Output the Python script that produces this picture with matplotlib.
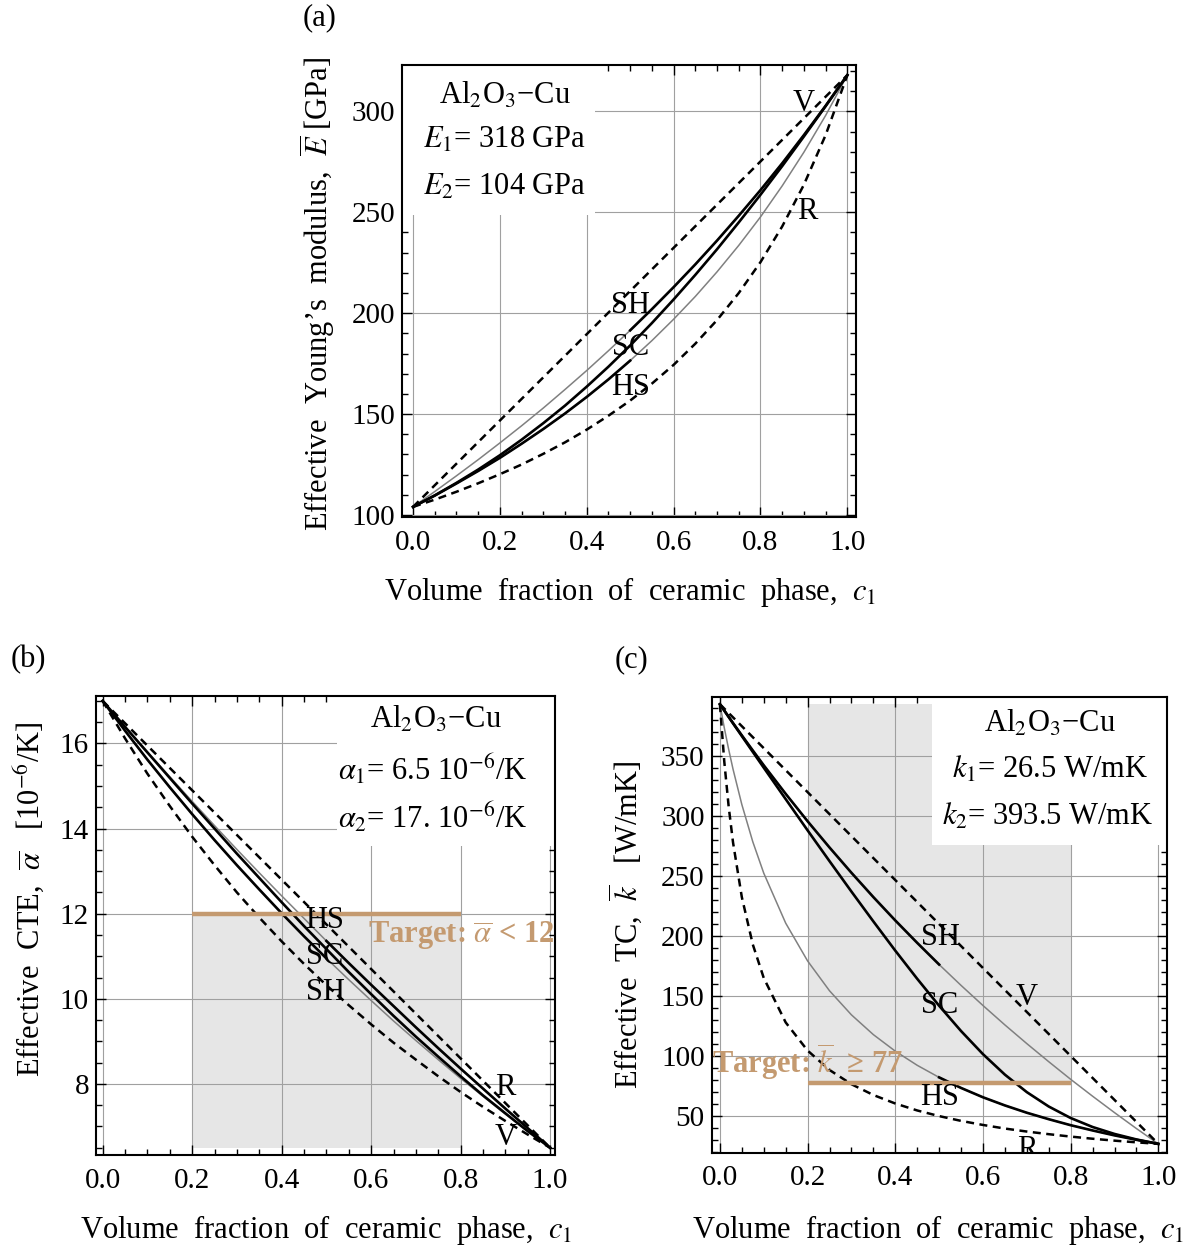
import matplotlib
matplotlib.use('Agg')
import matplotlib.pyplot as plt
from matplotlib.patches import Rectangle
from matplotlib.ticker import MultipleLocator, FormatStrFormatter

plt.rcParams['font.family'] = ['Liberation Serif', 'DejaVu Serif']
plt.rcParams['mathtext.fontset'] = 'stix'

# volume fraction grid used for (a) and (b)
c_ab = [0.0, 0.05, 0.1, 0.15, 0.2, 0.25, 0.3, 0.35, 0.4, 0.45, 0.5,
        0.55, 0.6, 0.65, 0.7, 0.75, 0.8, 0.85, 0.9, 0.95, 1.0]
# finer near zero for (c)
c_c = [0.0, 0.01, 0.02, 0.03, 0.05, 0.075, 0.1, 0.15, 0.2, 0.25, 0.3, 0.35, 0.4,
       0.45, 0.5, 0.55, 0.6, 0.65, 0.7, 0.75, 0.8, 0.85, 0.9, 0.95, 1.0]
c_ends = [0.0, 1.0]

# (a) Young's modulus [GPa]
E_V = [104.0, 318.0]
E_R = [104.0, 107.6, 111.5, 115.7, 120.2, 125.0, 130.3, 136.0, 142.3, 149.2, 156.7,
       165.1, 174.4, 184.9, 196.6, 210.0, 225.3, 243.0, 263.7, 288.3, 318.0]
E_up = [104.0, 111.6, 119.4, 127.4, 135.7, 144.2, 153.0, 162.2, 171.6, 181.4, 191.5,
        202.0, 212.9, 224.2, 236.0, 248.3, 261.0, 274.3, 288.3, 302.8, 318.0]
E_lo = [104.0, 109.6, 115.6, 121.8, 128.3, 135.3, 142.6, 150.3, 158.5, 167.2, 176.5,
        186.4, 197.0, 208.3, 220.5, 233.6, 247.7, 263.1, 279.8, 298.0, 318.0]
E_SC = [104.0, 109.7, 115.9, 122.5, 129.6, 137.3, 145.5, 154.2, 163.6, 173.5, 184.0,
        195.1, 206.8, 219.0, 231.7, 245.0, 258.7, 272.9, 287.6, 302.6, 318.0]

# (b) CTE [1e-6/K]
a_R = [17.0, 6.5]
a_V = [17.00, 16.12, 15.29, 14.53, 13.81, 13.14, 12.50, 11.91, 11.35, 10.82, 10.32,
       9.85, 9.40, 8.97, 8.57, 8.18, 7.81, 7.46, 7.13, 6.81, 6.50]
a_lo = [17.00, 16.30, 15.62, 14.97, 14.34, 13.73, 13.14, 12.57, 12.01, 11.47, 10.95,
        10.45, 9.96, 9.48, 9.02, 8.57, 8.13, 7.71, 7.29, 6.89, 6.50]
a_up = [17.00, 16.40, 15.80, 15.22, 14.64, 14.07, 13.51, 12.96, 12.42, 11.89, 11.36,
        10.84, 10.33, 9.83, 9.33, 8.84, 8.36, 7.89, 7.42, 6.96, 6.50]
a_SC = [17.00, 16.39, 15.79, 15.19, 14.59, 14.00, 13.41, 12.84, 12.27, 11.71, 11.17,
        10.63, 10.11, 9.60, 9.11, 8.64, 8.18, 7.73, 7.31, 6.89, 6.50]

# (c) thermal conductivity [W/mK]
k_V = [393.5, 26.5]
k_R = [393.5, 345.6, 308.1, 278.0, 232.5, 193.0, 165.0, 127.9, 104.4, 88.2, 76.3, 67.3,
       60.2, 54.4, 49.7, 45.7, 42.3, 39.3, 36.8, 34.6, 32.6, 30.8, 29.2, 27.8, 26.5]
k_up = [393.5, 388.2, 382.9, 377.7, 367.5, 354.9, 342.5, 318.7, 295.8, 273.9, 252.8, 232.5,
        213.0, 194.3, 176.2, 158.8, 142.0, 125.8, 110.2, 95.1, 80.4, 66.3, 52.6, 39.3, 26.5]
k_lo = [393.5, 373.8, 355.8, 339.2, 309.8, 278.7, 252.5, 210.8, 179.2, 154.3, 134.2, 117.7,
        103.9, 92.1, 82.0, 73.2, 65.4, 58.6, 52.5, 47.1, 42.1, 37.7, 33.6, 29.9, 26.5]
k_SC = [393.5, 388.2, 382.9, 377.5, 366.9, 353.7, 340.5, 314.3, 288.2, 262.5, 237.1, 212.2,
        187.8, 164.3, 141.8, 120.7, 101.4, 84.3, 69.7, 57.7, 48.1, 40.6, 34.8, 30.2, 26.5]

a_target = 12.0
k_target = 77.0

TAN = '#c49a70'
FS = 22
TFS = 21


def half(c, y, upper):
    pts = [(ci, yi) for ci, yi in zip(c, y) if (ci >= 0.5 if upper else ci <= 0.5)]
    return [p[0] for p in pts], [p[1] for p in pts]


def style(ax, xlim, ylim, ymaj, ymin):
    ax.set_xlim(*xlim)
    ax.set_ylim(*ylim)
    ax.xaxis.set_major_locator(MultipleLocator(0.2))
    ax.xaxis.set_minor_locator(MultipleLocator(0.05))
    ax.yaxis.set_major_locator(MultipleLocator(ymaj))
    ax.yaxis.set_minor_locator(MultipleLocator(ymin))
    ax.tick_params(which='both', direction='in', top=True, right=True, width=1.0)
    ax.tick_params(which='major', length=7, labelsize=TFS)
    ax.tick_params(axis='x', which='major', pad=9)
    ax.tick_params(axis='y', which='major', pad=5)
    ax.tick_params(which='minor', length=4)
    ax.xaxis.set_major_formatter(FormatStrFormatter('%.1f'))
    ax.grid(True, which='major', color='#a0a0a0', lw=0.8, zorder=1)
    ax.set_axisbelow(True)
    for s in ax.spines.values():
        s.set_linewidth(1.5)


def curves(ax, c, V, R, cV, cR, up, lo, sc, black_lo_first):
    ax.plot(c, up, color='#808080', lw=1.1, zorder=3)
    ax.plot(c, lo, color='#808080', lw=1.1, zorder=3)
    ax.plot(cV, V, color='k', lw=1.8, ls=(0, (3.2, 2.2)), zorder=4)
    ax.plot(cR, R, color='k', lw=1.8, ls=(0, (3.2, 2.2)), zorder=4)
    ax.plot(c, sc, color='k', lw=1.9, zorder=5)
    x1, y1 = half(c, lo if black_lo_first else up, False)
    x2, y2 = half(c, up if black_lo_first else lo, True)
    ax.plot(x1, y1, color='k', lw=1.9, zorder=5)
    ax.plot(x2, y2, color='k', lw=1.9, zorder=5)


def box(ax, x0, x1, y0, y1):
    ax.add_patch(Rectangle((x0, y0), x1 - x0, y1 - y0, facecolor='white',
                           edgecolor='none', zorder=2))


fig = plt.figure(figsize=(12.04, 12.5), dpi=100)
xlab = 'Volume  fraction  of  ceramic  phase,  $c_1$'

# ---------- (a)
ax = fig.add_axes([0.334, 0.5864, 0.377, 0.3616])
style(ax, (-0.025, 1.02), (99, 323), 50, 10)
curves(ax, c_ab, E_V, E_R, c_ends, c_ab, E_up, E_lo, E_SC, True)
box(ax, -0.025, 0.42, 248.5, 323)
ax.text(0.212, 307.9, 'Al$_2$O$_3$\u2212Cu', fontsize=FS, ha='center', va='center', zorder=6)
ax.text(0.212, 285.6, '$E_1$= 318 GPa', fontsize=FS, ha='center', va='center', zorder=6)
ax.text(0.212, 262.4, '$E_2$= 104 GPa', fontsize=FS, ha='center', va='center', zorder=6)
for t, x, y in [('V', 0.899, 304), ('R', 0.908, 250.5), ('SH', 0.5, 204),
                ('SC', 0.5, 183), ('HS', 0.5, 163)]:
    ax.text(x, y, t, fontsize=FS, ha='center', va='center', zorder=7)
ax.text(-0.188, 0.493, 'Effective  Young\u2019s  modulus,  $\\overline{E}$ [GPa]', fontsize=FS,
        rotation=90, ha='center', va='center', transform=ax.transAxes)
ax.text(0.502, -0.166, xlab, fontsize=FS, ha='center', va='center', transform=ax.transAxes)
fig.text(320 / 1204, 1 - 18 / 1250, '(a)', fontsize=FS, ha='center', va='center')

# ---------- (b)
ax = fig.add_axes([0.0797, 0.076, 0.3813, 0.367])
style(ax, (-0.015, 1.011), (6.33, 17.11), 2, 0.5)
ax.add_patch(Rectangle((0.2, 6.5), 0.6, a_target - 6.5, facecolor='#e6e6e6',
                       edgecolor='none', zorder=0.5))
curves(ax, c_ab, a_V, a_R, c_ab, c_ends, a_lo, a_up, a_SC, False)
ax.plot([0.2, 0.8], [a_target, a_target], color=TAN, lw=3.2, zorder=6, solid_capstyle='butt')
box(ax, 0.524, 1.011, 13.6, 17.11)
ax.text(0.745, 16.55, 'Al$_2$O$_3$\u2212Cu', fontsize=FS, ha='center', va='center', zorder=6)
ax.text(0.737, 15.37, '$\\alpha_1$= 6.5 10$^{-6}$/K', fontsize=FS, ha='center', va='center', zorder=6)
ax.text(0.737, 14.25, '$\\alpha_2$= 17. 10$^{-6}$/K', fontsize=FS, ha='center', va='center', zorder=6)
for t, x, y in [('HS', 0.497, 11.83), ('SC', 0.497, 10.99), ('SH', 0.497, 10.14),
                ('R', 0.9, 7.91), ('V', 0.9, 6.74)]:
    ax.text(x, y, t, fontsize=FS, ha='center', va='center', zorder=7)
ax.text(0.801, 11.48, 'Target: $\\overline{\\alpha}$ < 12', fontsize=FS, fontweight='bold',
        color=TAN, ha='center', va='center', zorder=7)
ax.text(-0.145, 0.558, 'Effective  CTE,  $\\overline{\\alpha}$   [10$^{-6}$/K]', fontsize=FS,
        rotation=90, ha='center', va='center', transform=ax.transAxes)
ax.text(0.501, -0.163, xlab, fontsize=FS, ha='center', va='center', transform=ax.transAxes)
fig.text(28 / 1204, 1 - 660 / 1250, '(b)', fontsize=FS, ha='center', va='center')

# ---------- (c)
ax = fig.add_axes([0.591, 0.0778, 0.378, 0.3646])
style(ax, (-0.019, 1.019), (19.1, 399.5), 50, 10)
ax.add_patch(Rectangle((0.2, k_target), 0.6, 393.5 - k_target, facecolor='#e6e6e6',
                       edgecolor='none', zorder=0.5))
curves(ax, c_c, k_V, k_R, c_ends, c_c, k_up, k_lo, k_SC, False)
ax.plot([0.2, 0.8], [k_target, k_target], color=TAN, lw=3.2, zorder=6, solid_capstyle='butt')
box(ax, 0.484, 1.019, 276, 399.5)
ax.text(0.753, 377.3, 'Al$_2$O$_3$\u2212Cu', fontsize=FS, ha='center', va='center', zorder=6)
ax.text(0.753, 338.9, '$k_1$= 26.5 W/mK', fontsize=FS, ha='center', va='center', zorder=6)
ax.text(0.748, 299.6, '$k_2$= 393.5 W/mK', fontsize=FS, ha='center', va='center', zorder=6)
for t, x, y in [('SH', 0.502, 198.5), ('SC', 0.502, 141.7), ('V', 0.7, 148.4),
                ('HS', 0.502, 64.8), ('R', 0.7, 22.0)]:
    ax.text(x, y, t, fontsize=FS, ha='center', va='center', zorder=7, clip_on=True)
ax.text(0.2, 94.9, 'Target: $\\overline{k}$  \u2265 77', fontsize=FS, fontweight='bold',
        color=TAN, ha='center', va='center', zorder=7)
ax.text(-0.19, 0.5, 'Effective  TC,  $\\overline{k}$   [W/mK]', fontsize=FS,
        rotation=90, ha='center', va='center', transform=ax.transAxes)
ax.text(0.497, -0.17, xlab, fontsize=FS, ha='center', va='center', transform=ax.transAxes)
fig.text(632 / 1204, 1 - 660 / 1250, '(c)', fontsize=FS, ha='center', va='center')

fig.savefig('out.png', dpi=100)
